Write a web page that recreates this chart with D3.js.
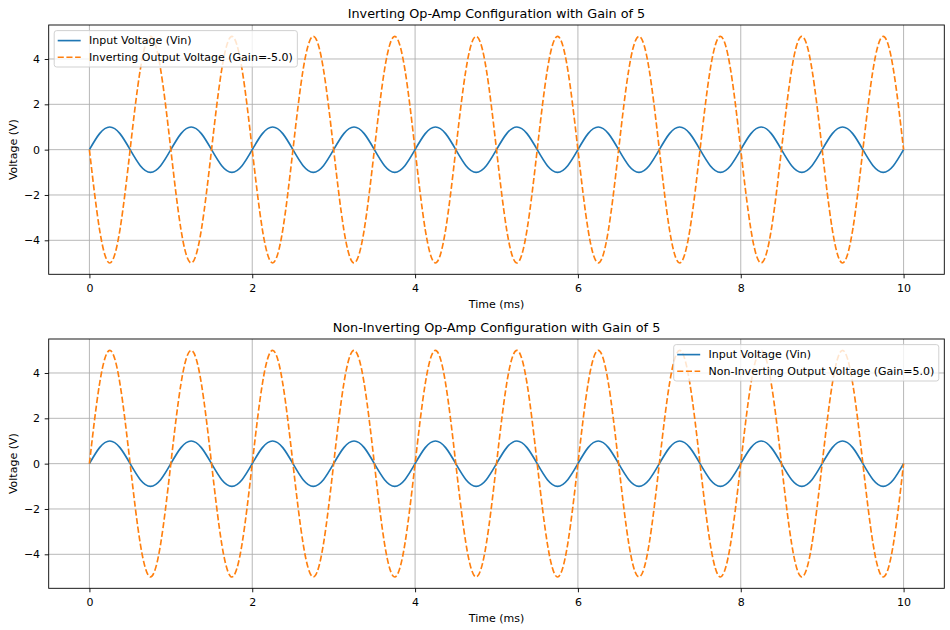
<!DOCTYPE html>
<html>
<head>
<meta charset="utf-8">
<script src="https://cdn.jsdelivr.net/npm/d3@7"></script>
<style>
  body { margin: 0; background: #fff; }
  svg { display: block; font-family: "DejaVu Sans", sans-serif; }
</style>
</head>
<body>
<div id="chart"></div>
<script>
// sample times (ms), one line per 1 ms period
const timeMs = [
  0, 0.125, 0.25, 0.375, 0.5, 0.625, 0.75, 0.875,
  1, 1.125, 1.25, 1.375, 1.5, 1.625, 1.75, 1.875,
  2, 2.125, 2.25, 2.375, 2.5, 2.625, 2.75, 2.875,
  3, 3.125, 3.25, 3.375, 3.5, 3.625, 3.75, 3.875,
  4, 4.125, 4.25, 4.375, 4.5, 4.625, 4.75, 4.875,
  5, 5.125, 5.25, 5.375, 5.5, 5.625, 5.75, 5.875,
  6, 6.125, 6.25, 6.375, 6.5, 6.625, 6.75, 6.875,
  7, 7.125, 7.25, 7.375, 7.5, 7.625, 7.75, 7.875,
  8, 8.125, 8.25, 8.375, 8.5, 8.625, 8.75, 8.875,
  9, 9.125, 9.25, 9.375, 9.5, 9.625, 9.75, 9.875,
  10
];

const vin = [
  0, 0.707, 1, 0.707, 0, -0.707, -1, -0.707,
  0, 0.707, 1, 0.707, 0, -0.707, -1, -0.707,
  0, 0.707, 1, 0.707, 0, -0.707, -1, -0.707,
  0, 0.707, 1, 0.707, 0, -0.707, -1, -0.707,
  0, 0.707, 1, 0.707, 0, -0.707, -1, -0.707,
  0, 0.707, 1, 0.707, 0, -0.707, -1, -0.707,
  0, 0.707, 1, 0.707, 0, -0.707, -1, -0.707,
  0, 0.707, 1, 0.707, 0, -0.707, -1, -0.707,
  0, 0.707, 1, 0.707, 0, -0.707, -1, -0.707,
  0, 0.707, 1, 0.707, 0, -0.707, -1, -0.707,
  0
];

const voutInverting = [
  0, -3.536, -5, -3.536, 0, 3.536, 5, 3.536,
  0, -3.536, -5, -3.536, 0, 3.536, 5, 3.536,
  0, -3.536, -5, -3.536, 0, 3.536, 5, 3.536,
  0, -3.536, -5, -3.536, 0, 3.536, 5, 3.536,
  0, -3.536, -5, -3.536, 0, 3.536, 5, 3.536,
  0, -3.536, -5, -3.536, 0, 3.536, 5, 3.536,
  0, -3.536, -5, -3.536, 0, 3.536, 5, 3.536,
  0, -3.536, -5, -3.536, 0, 3.536, 5, 3.536,
  0, -3.536, -5, -3.536, 0, 3.536, 5, 3.536,
  0, -3.536, -5, -3.536, 0, 3.536, 5, 3.536,
  0
];

const voutNonInverting = [
  0, 3.536, 5, 3.536, 0, -3.536, -5, -3.536,
  0, 3.536, 5, 3.536, 0, -3.536, -5, -3.536,
  0, 3.536, 5, 3.536, 0, -3.536, -5, -3.536,
  0, 3.536, 5, 3.536, 0, -3.536, -5, -3.536,
  0, 3.536, 5, 3.536, 0, -3.536, -5, -3.536,
  0, 3.536, 5, 3.536, 0, -3.536, -5, -3.536,
  0, 3.536, 5, 3.536, 0, -3.536, -5, -3.536,
  0, 3.536, 5, 3.536, 0, -3.536, -5, -3.536,
  0, 3.536, 5, 3.536, 0, -3.536, -5, -3.536,
  0, 3.536, 5, 3.536, 0, -3.536, -5, -3.536,
  0
];

const xTicks = [0, 2, 4, 6, 8, 10];
const yTicks = [-4, -2, 0, 2, 4];

const titles = [
  "Inverting Op-Amp Configuration with Gain of 5",
  "Non-Inverting Op-Amp Configuration with Gain of 5"
];
const inLabel = "Input Voltage (Vin)";
const outLabels = [
  "Inverting Output Voltage (Gain=-5.0)",
  "Non-Inverting Output Voltage (Gain=5.0)"
];

const colors = { vin: "#1f77b4", vout: "#ff7f0e" };

const width = 950, height = 630;
const plot = { left: 48.7, right: 944.3, height: 249.3, tops: [25, 339] };

const svg = d3.select("#chart").append("svg")
  .attr("width", width)
  .attr("height", height);

const panels = [
  { title: titles[0], out: voutInverting, outLabel: outLabels[0], legend: "left" },
  { title: titles[1], out: voutNonInverting, outLabel: outLabels[1], legend: "right" }
];

panels.forEach((p, i) => drawPanel(p, plot.tops[i]));

function drawPanel(p, top) {
  const bottom = top + plot.height;

  const x = d3.scaleLinear().domain([-0.5, 10.5]).range([plot.left, plot.right]);
  const y = d3.scaleLinear().domain([-5.5, 5.5]).range([bottom, top]);

  const g = svg.append("g");

  // grid lines
  g.append("g").selectAll("line").data(xTicks).enter().append("line")
    .attr("x1", d => x(d)).attr("x2", d => x(d))
    .attr("y1", top).attr("y2", bottom)
    .style("stroke", "#b0b0b0").style("stroke-width", 0.9);

  g.append("g").selectAll("line").data(yTicks).enter().append("line")
    .attr("x1", plot.left).attr("x2", plot.right)
    .attr("y1", d => y(d)).attr("y2", d => y(d))
    .style("stroke", "#b0b0b0").style("stroke-width", 0.9);

  const line = d3.line()
    .x((d, idx) => x(timeMs[idx]))
    .y(d => y(d))
    .curve(d3.curveNatural);

  g.append("path")
    .attr("d", line(vin))
    .style("fill", "none")
    .style("stroke", colors.vin)
    .style("stroke-width", 1.65);

  g.append("path")
    .attr("d", line(p.out))
    .style("fill", "none")
    .style("stroke", colors.vout)
    .style("stroke-width", 1.65)
    .style("stroke-dasharray", "6.1,2.6");

  // axes
  const xAxis = g.append("g")
    .attr("transform", `translate(0, ${bottom})`)
    .call(d3.axisBottom(x).tickValues(xTicks).tickSize(4).tickPadding(5.6).tickSizeOuter(0));
  const yAxis = g.append("g")
    .attr("transform", `translate(${plot.left}, 0)`)
    .call(d3.axisLeft(y).tickValues(yTicks).tickSize(4).tickPadding(4.6).tickSizeOuter(0));

  [xAxis, yAxis].forEach(a => {
    a.select(".domain").remove();
    a.selectAll("line").style("stroke", "#000").style("stroke-width", 0.9);
    a.selectAll("text")
      .style("font-family", "DejaVu Sans")
      .style("font-size", "11px")
      .style("fill", "#000");
  });

  // spines
  g.append("rect")
    .attr("x", plot.left).attr("y", top)
    .attr("width", plot.right - plot.left).attr("height", plot.height)
    .style("fill", "none")
    .style("stroke", "#000")
    .style("stroke-width", 0.9);

  // title and axis labels
  const cx = (plot.left + plot.right) / 2;
  g.append("text")
    .attr("x", cx).attr("y", top - 7)
    .attr("text-anchor", "middle")
    .style("font-size", "12.8px")
    .text(p.title);

  g.append("text")
    .attr("x", cx).attr("y", bottom + 34)
    .attr("text-anchor", "middle")
    .style("font-size", "11px")
    .text("Time (ms)");

  g.append("text")
    .attr("transform", `translate(16.5, ${(top + bottom) / 2}) rotate(-90)`)
    .attr("text-anchor", "middle")
    .style("font-size", "11px")
    .text("Voltage (V)");

  drawLegend(g, p, top);
}

function drawLegend(g, p, top) {
  const items = [
    { label: inLabel, color: colors.vin, dash: null },
    { label: p.outLabel, color: colors.vout, dash: "6.1,2.6" }
  ];
  const lg = g.append("g");
  const box = lg.append("rect")
    .attr("rx", 2.5).attr("ry", 2.5)
    .style("fill", "#fff").style("fill-opacity", 0.8)
    .style("stroke", "#cccccc").style("stroke-width", 0.9);

  const texts = [];
  items.forEach((it, idx) => {
    const cy = 10 + idx * 16.6;
    lg.append("line")
      .attr("x1", 3.5).attr("x2", 26.5)
      .attr("y1", cy).attr("y2", cy)
      .style("stroke", it.color)
      .style("stroke-width", 1.65)
      .style("stroke-dasharray", it.dash);
    texts.push(lg.append("text")
      .attr("x", 34.8).attr("y", cy)
      .attr("dy", "0.35em")
      .style("font-size", "11px")
      .text(it.label));
  });

  const textW = d3.max(texts, t => t.node().getComputedTextLength());
  const boxW = 34.8 + textW + 4.5;
  const boxH = 36.4;
  box.attr("width", boxW).attr("height", boxH);

  const lx = p.legend === "left" ? plot.left + 5.5 : plot.right - 5.5 - boxW;
  lg.attr("transform", `translate(${lx}, ${top + 5.6})`);
}
</script>
</body>
</html>
